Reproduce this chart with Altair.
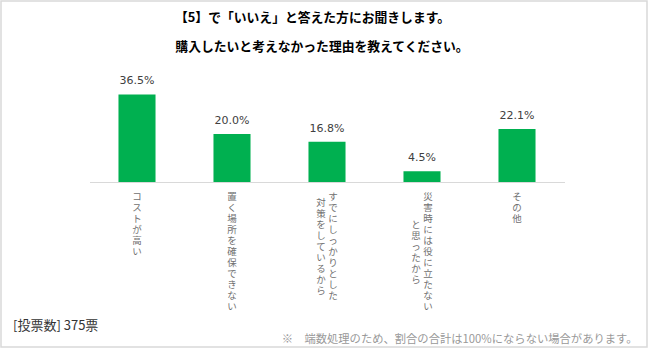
import altair as alt
import pandas as pd

# ---- data ----
categories = [
    "コストが高い",
    "置く場所を確保できない",
    "すでにしっかりとした対策をしているから",
    "災害時には役に立たないと思ったから",
    "その他",
]
values = [36.5, 20.0, 16.8, 4.5, 22.1]
label_columns = [
    ["コストが高い"],
    ["置く場所を確保できない"],
    ["すでにしっかりとした", "対策をしているから"],
    ["災害時には役に立たない", "と思ったから"],
    ["その他"],
]
title_lines = ["【5】で「いいえ」と答えた方にお聞きします。", "購入したいと考えなかった理由を教えてください。"]
footer_left = "[投票数] 375票"
footer_right = "※　端数処理のため、割合の合計は100%にならない場合があります。"

JP = "Noto Sans CJK JP"
GREEN = "#00B050"
LINE_H = 11
TOP = 106

bars_df = pd.DataFrame({"cat": categories, "value": values})
bars_df["label"] = [f"{v:.1f}%" for v in values]

rows = []
for cat, cols in zip(categories, label_columns):
    maxlen = max(len(c) for c in cols)
    for i, c in enumerate(cols):
        if len(cols) == 1:
            pos = "c"
        else:
            pos = "r" if i == 0 else "l"
        rows.append({
            "cat": cat,
            "pos": pos,
            "txt": "\n".join(list(c)),
            "ypix": TOP + (maxlen - len(c)) * LINE_H / 2,
        })
lab_df = pd.DataFrame(rows)

xenc = alt.X("cat:N", sort=categories,
             scale=alt.Scale(paddingInner=0.61, paddingOuter=0.305),
             axis=alt.Axis(title=None, labels=False, ticks=False,
                           domainColor="#d9d9d9", domainWidth=1, grid=False))

base = alt.Chart(bars_df)

bars = base.mark_bar(color=GREEN).encode(
    x=xenc,
    y=alt.Y("value:Q", scale=alt.Scale(domain=[0, 40]), axis=None),
)
vals = base.mark_text(font="DejaVu Sans", fontSize=11, color="#404040",
                      baseline="alphabetic", dy=-10).encode(
    x=alt.X("cat:N", sort=categories),
    y=alt.Y("value:Q"),
    text="label:N",
)

def col_layer(pos, dx):
    return alt.Chart(lab_df).transform_filter(
        alt.datum.pos == pos
    ).mark_text(font=JP, fontSize=9.5, color="#707070", baseline="top",
                align="center", lineBreak="\n", lineHeight=LINE_H, dx=dx).encode(
        x=alt.X("cat:N", sort=categories),
        y=alt.Y("ypix:Q", scale=None),
        text="txt:N",
    )

lab_c = col_layer("c", 0)
lab_r = col_layer("r", 6)
lab_l = col_layer("l", -6)

t1 = alt.Chart(pd.DataFrame({"t": [title_lines[0]]})).mark_text(
    font=JP, fontSize=12.8, fontWeight="bold", color="#000000",
    align="center", baseline="middle").encode(
    x=alt.value(223), y=alt.value(-68), text="t:N")
t2 = alt.Chart(pd.DataFrame({"t": [title_lines[1]]})).mark_text(
    font=JP, fontSize=12.8, fontWeight="bold", color="#000000",
    align="center", baseline="middle").encode(
    x=alt.value(232.5), y=alt.value(-39), text="t:N")

foot_df = pd.DataFrame({"t": [footer_left]})
foot1 = alt.Chart(foot_df).mark_text(font=JP, fontSize=13, color="#333333",
                                     align="left", baseline="middle").encode(
    x=alt.value(-76.5), y=alt.value(240), text="t:N")
foot_df2 = pd.DataFrame({"t": [footer_right]})
foot2 = alt.Chart(foot_df2).mark_text(font=JP, fontSize=11.3, color="#999999",
                                      align="right", baseline="middle").encode(
    x=alt.value(548), y=alt.value(254), text="t:N")

frame = alt.Chart(foot_df).mark_rect(fill=None, stroke="#d9d9d9", strokeWidth=1.5).encode(
    x=alt.value(-88.5), x2=alt.value(557.5), y=alt.value(-85), y2=alt.value(261))

chart = alt.layer(frame, bars, vals, lab_c, lab_r, lab_l, t1, t2, foot1, foot2).properties(
    width=475, height=96,
    background="white",
    autosize=alt.AutoSizeParams(type="none"),
    padding={"left": 89.5, "top": 86, "right": 86.5, "bottom": 171},
).configure_view(stroke="transparent", strokeWidth=0)

chart.save("out.html", embed_options={"renderer": "svg", "actions": False})
